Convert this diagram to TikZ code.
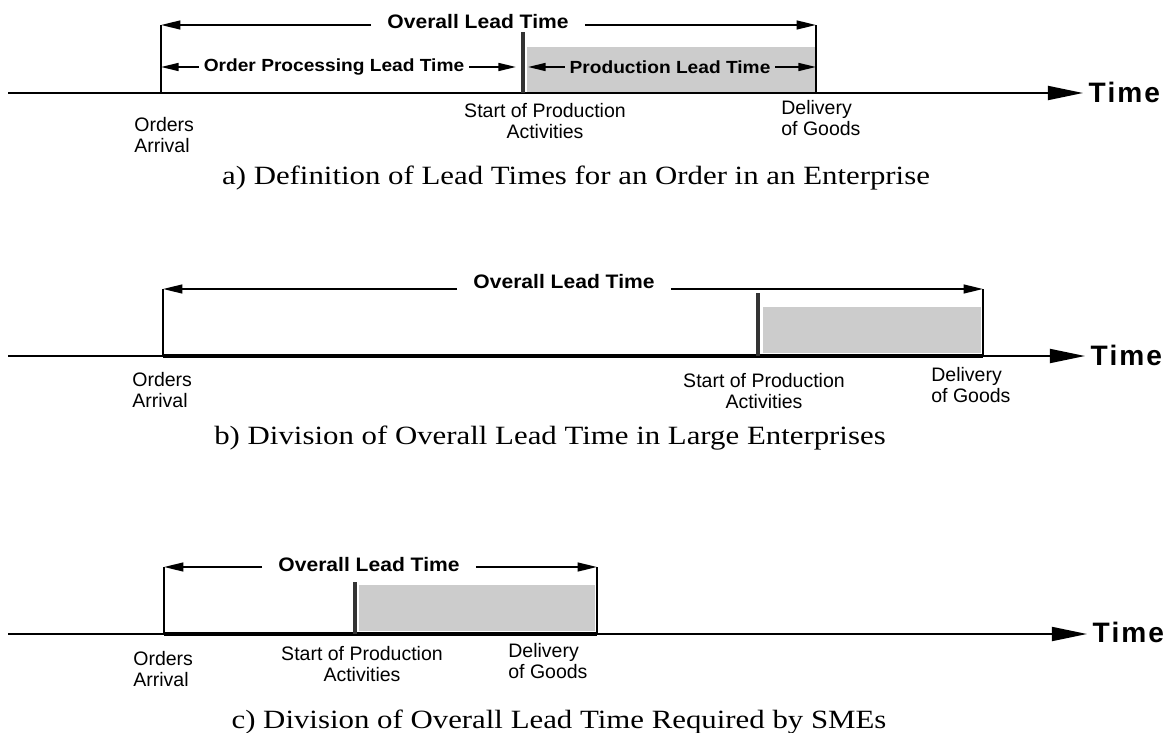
\documentclass[tikz,border=0pt]{standalone}
\usepackage{fontspec}
\setmainfont{Liberation Serif}
\setsansfont{Liberation Sans}
\usetikzlibrary{arrows.meta}

\begin{document}
\begin{tikzpicture}[x=0.02cm,y=-0.02cm,
	lbl/.style={font=\sffamily\fontsize{11.1}{11.6}\selectfont,inner sep=0pt},
	ovl/.style={font=\sffamily\bfseries\fontsize{11.1}{12}\selectfont,xscale=1.08,inner xsep=8.4pt,inner ysep=0pt},
	subl/.style={font=\sffamily\bfseries\fontsize{10}{11}\selectfont,xscale=1.09,inner xsep=2.4pt,inner ysep=0pt},
	timel/.style={font=\sffamily\bfseries\fontsize{16}{17}\selectfont,inner xsep=3pt,inner ysep=0pt,anchor=west},
	capt/.style={font=\fontsize{15}{17}\selectfont,xscale=1.17,inner sep=0pt},
	tline/.style={line width=1pt,-{Triangle[length=20pt,width=8pt]}},
	ovspan/.style={line width=1.1pt,-{Triangle[length=11pt,width=5pt]}},
	subspan/.style={line width=1pt,-{Triangle[length=10pt,width=4.5pt]}},
	endln/.style={line width=1.4pt},
	prodbar/.style={line width=2.3pt,black!80},
	thickbase/.style={line width=2.3pt},
	prodfill/.style={fill=black!20}]
\useasboundingbox (0,0) rectangle (1169,733);

%	% a) Lead times for an order
	\coordinate (aL) at (8,93);
	\coordinate (aO) at (161,93);
	\coordinate (aOt) at (161,25);
	\coordinate (aS) at (523,93);
	\coordinate (aSt) at (523,32);
	\coordinate (aD) at (816,93);
	\coordinate (aDt) at (816,25);
	\coordinate (aSl) at (516,67);
	\coordinate (aSr) at (528,67);
	\fill[prodfill] (527,47) rectangle (815,92);
	\node[timel] (aT) at (1083,92) {T\hspace{1.1pt}i\hspace{1.1pt}m\hspace{1.1pt}e};
	\draw[tline] (aL) -- (aL -| aT.west);
	\draw[endln] (aO) -- (aOt);
	\draw[endln] (aD) -- (aDt);
	\draw[prodbar] (aS) -- (aSt);
	\node[ovl] (aov) at (478,22) {Overall Lead Time};
	\draw[ovspan] (aov.west |- aOt) -- (aOt);
	\draw[ovspan] (aov.east |- aDt) -- (aDt);
	\node[subl] (aop) at (334,67) {Order Processing Lead Time};
	\draw[subspan] (aop.west) -- (aO |- aop);
	\draw[subspan] (aop.east) -- (aSl);
	\node[subl] (apl) at (670,67) {Production Lead Time};
	\draw[subspan] (apl.west) -- (aSr);
	\draw[subspan] (apl.east) -- (aD |- apl);
	\node[lbl,align=left,anchor=west] (aord) at (134,135) {Orders\\Arrival};
	\node[lbl,align=center] (asta) at (545,121) {Start of Production\\Activities};
	\node[lbl,align=left,anchor=west] (adel) at (781,118) {Delivery\\of Goods};
	\node[capt] (acap) at (576,178) {a) Definition of Lead Times for an Order in an Enterprise};

%	% b) Large enterprises
	\coordinate (bL) at (8,356);
	\coordinate (bO) at (163,356);
	\coordinate (bOt) at (163,289);
	\coordinate (bS) at (758,356);
	\coordinate (bSt) at (758,293);
	\coordinate (bD) at (983,356);
	\coordinate (bDt) at (983,289);
	\fill[prodfill] (763,307) rectangle (981,353);
	\node[timel] (bT) at (1085,355) {T\hspace{1.1pt}i\hspace{1.1pt}m\hspace{1.1pt}e};
	\draw[tline] (bL) -- (bL -| bT.west);
	\draw[thickbase] (bO) -- (bD);
	\draw[endln] (bO) -- (bOt);
	\draw[endln] (bD) -- (bDt);
	\draw[prodbar] (bS) -- (bSt);
	\node[ovl] (bov) at (564,282) {Overall Lead Time};
	\draw[ovspan] (bov.west |- bOt) -- (bOt);
	\draw[ovspan] (bov.east |- bDt) -- (bDt);
	\node[lbl,align=left,anchor=west] (bord) at (132,390) {Orders\\Arrival};
	\node[lbl,align=center] (bsta) at (764,391) {Start of Production\\Activities};
	\node[lbl,align=left,anchor=west] (bdel) at (931,385) {Delivery\\of Goods};
	\node[capt] (bcap) at (550,438) {b) Division of Overall Lead Time in Large Enterprises};

%	% c) SMEs
	\coordinate (cL) at (8,634);
	\coordinate (cO) at (164,634);
	\coordinate (cOt) at (164,567);
	\coordinate (cS) at (355,634);
	\coordinate (cSt) at (355,582);
	\coordinate (cD) at (597,634);
	\coordinate (cDt) at (597,567);
	\fill[prodfill] (359,585) rectangle (595,631);
	\node[timel] (cT) at (1087,632) {T\hspace{1.1pt}i\hspace{1.1pt}m\hspace{1.1pt}e};
	\draw[tline] (cL) -- (cL -| cT.west);
	\draw[thickbase] (cO) -- (cD);
	\draw[endln] (cO) -- (cOt);
	\draw[endln] (cD) -- (cDt);
	\draw[prodbar] (cS) -- (cSt);
	\node[ovl] (cov) at (369,565) {Overall Lead Time};
	\draw[ovspan] (cov.west |- cOt) -- (cOt);
	\draw[ovspan] (cov.east |- cDt) -- (cDt);
	\node[lbl,align=left,anchor=west] (cord) at (133,669) {Orders\\Arrival};
	\node[lbl,align=center] (csta) at (362,664) {Start of Production\\Activities};
	\node[lbl,align=left,anchor=west] (cdel) at (508,661) {Delivery\\of Goods};
	\node[capt] (ccap) at (559,722) {c) Division of Overall Lead Time Required by SMEs};
\end{tikzpicture}
\end{document}
